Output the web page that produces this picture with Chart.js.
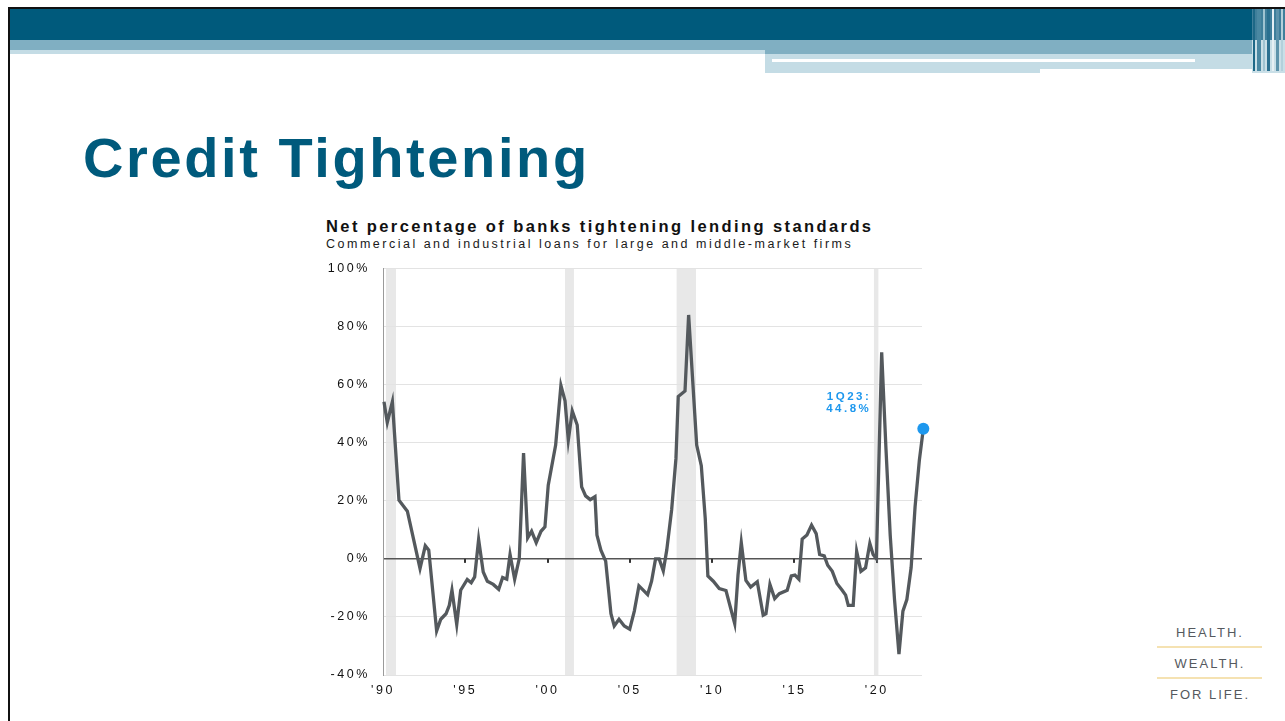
<!DOCTYPE html>
<html>
<head>
<meta charset="utf-8">
<title>Credit Tightening</title>
<script src="https://cdn.jsdelivr.net/npm/chart.js@4.4.1/dist/chart.umd.min.js"></script>
<style>
  html, body { margin: 0; padding: 0; background: #fff; }
  body { width: 1285px; height: 721px; position: relative; overflow: hidden; font-family: "Liberation Sans", Arial, sans-serif; }
  .abs { position: absolute; }
  .title { left: 83px; top: 130px; font: bold 56px/56px "Liberation Sans", Arial, sans-serif; letter-spacing: 2.6px; color: #005a7c; white-space: nowrap; }
  .ctitle { left: 326px; top: 218px; font: bold 16.5px/17px "Liberation Sans", Arial, sans-serif; letter-spacing: 2.4px; color: #111; white-space: nowrap; }
  .csub { left: 326px; top: 238px; font: 12.5px/13px "Liberation Sans", Arial, sans-serif; letter-spacing: 2.5px; color: #1a1a1a; white-space: nowrap; }
  .motto { left: 1150px; width: 120px; text-align: center; font: 13px/13px "Liberation Sans", Arial, sans-serif; letter-spacing: 2px; color: #55595e; }
  .rule { left: 1157px; width: 105px; height: 2px; background: #f5e2b2; }
  #wrap { left: 322px; top: 248px; width: 618px; height: 455px; }
</style>
</head>
<body>
<!-- slide frame and header bands -->
<div class="abs" style="left:8px;top:7px;width:1277px;height:2px;background:#111"></div>
<div class="abs" style="left:8px;top:7px;width:2px;height:714px;background:#111"></div>
<div class="abs" style="left:10px;top:9px;width:1242px;height:31px;background:#005a7c"></div>
<div class="abs" style="left:10px;top:40px;width:1242px;height:10px;background:#80afc2"></div>
<div class="abs" style="left:10px;top:50px;width:755px;height:4px;background:#c4dce5"></div>
<div class="abs" style="left:765px;top:50px;width:487px;height:4px;background:#80afc2"></div>
<div class="abs" style="left:765px;top:54px;width:487px;height:19px;background:#c4dce5"></div>
<div class="abs" style="left:772px;top:59px;width:423px;height:3px;background:#fff"></div>
<div class="abs" style="left:1040px;top:69px;width:212px;height:4px;background:#fff"></div>
<!-- stripes at the right end of the header -->
<div class="abs" style="left:1252px;top:9px;width:33px;height:64px;background:#c9dfe7"></div>
<div class="abs" style="left:1252px;top:9px;width:33px;height:31px;background:#3f7f9b"></div>
<div class="abs" style="left:1253px;top:9px;width:2px;height:62px;background:#1d6887"></div>
<div class="abs" style="left:1257px;top:9px;width:4px;height:62px;background:#4a88a2"></div>
<div class="abs" style="left:1263px;top:9px;width:2px;height:62px;background:#9fc3d1"></div>
<div class="abs" style="left:1267px;top:9px;width:3px;height:62px;background:#2a7090"></div>
<div class="abs" style="left:1272px;top:9px;width:2px;height:62px;background:#e6f0f4"></div>
<div class="abs" style="left:1276px;top:9px;width:3px;height:62px;background:#5d93ab"></div>
<div class="abs" style="left:1281px;top:9px;width:2px;height:62px;background:#b3d0db"></div>

<div class="abs title">Credit Tightening</div>
<div class="abs ctitle">Net percentage of banks tightening lending standards</div>
<div class="abs csub">Commercial and industrial loans for large and middle-market firms</div>

<div class="abs" id="wrap"><canvas id="chart"></canvas></div>

<div class="abs motto" style="top:626px">HEALTH.</div>
<div class="abs rule" style="top:646px"></div>
<div class="abs motto" style="top:657px">WEALTH.</div>
<div class="abs rule" style="top:677px"></div>
<div class="abs motto" style="top:688px">FOR LIFE.</div>

<script>
// survey dates (decimal years) and net % of banks tightening
const dates = [
  1990.06, 1990.26, 1990.57, 1990.97, 1991.48, 1992.25, 1992.57, 1992.78, 1993.26, 1993.51,
  1993.83, 1994.03, 1994.19, 1994.48, 1994.72, 1995.12, 1995.36, 1995.57, 1995.81, 1996.09,
  1996.34, 1996.70, 1997.03, 1997.27, 1997.52, 1997.72, 1998.00, 1998.28, 1998.54, 1998.79,
  1999.03, 1999.31, 1999.60, 1999.84, 2000.04, 2000.49, 2000.81, 2001.06, 2001.26, 2001.50,
  2001.80, 2002.07, 2002.31, 2002.59, 2002.88, 2003.00, 2003.24, 2003.53, 2003.85, 2004.05,
  2004.34, 2004.66, 2004.99, 2005.27, 2005.55, 2005.81, 2006.08, 2006.32, 2006.56, 2006.78,
  2007.03, 2007.24, 2007.54, 2007.80, 2007.94, 2008.35, 2008.57, 2009.06, 2009.34, 2009.58,
  2009.74, 2010.07, 2010.43, 2010.84, 2011.37, 2011.57, 2011.77, 2012.05, 2012.34, 2012.74,
  2013.10, 2013.27, 2013.51, 2013.80, 2014.08, 2014.56, 2014.81, 2015.03, 2015.27, 2015.47,
  2015.76, 2016.04, 2016.32, 2016.53, 2016.81, 2017.02, 2017.30, 2017.58, 2017.90, 2018.11,
  2018.27, 2018.57, 2018.78, 2019.04, 2019.32, 2019.58, 2019.78, 2019.98, 2020.30, 2020.56,
  2020.82, 2021.08, 2021.35, 2021.59, 2021.83, 2022.09, 2022.33, 2022.59, 2022.83
];
const values = [
  54.1, 47.0, 54.1, 20.2, 16.4, -3.3, 4.5, 3.0, -24.8, -20.8,
  -18.9, -16.0, -10.8, -22.6, -10.8, -7.1, -8.2, -6.2, 6.7, -4.5,
  -7.7, -8.8, -10.5, -6.4, -7.0, 1.5, -7.0, 0.1, 36.4, 7.2,
  9.5, 5.6, 9.5, 11.0, 25.4, 39.2, 59.7, 54.4, 40.9, 50.9,
  46.1, 24.8, 21.7, 20.4, 21.4, 8.2, 3.0, -0.8, -18.9, -23.1,
  -20.8, -23.1, -24.2, -18.0, -9.3, -10.8, -12.3, -7.7, 0.0, 0.0,
  -4.1, 3.0, 17.0, 34.6, 55.9, 57.8, 84.0, 39.2, 32.1, 13.9,
  -5.9, -7.7, -10.2, -10.9, -22.3, -5.6, 5.6, -7.4, -9.7, -7.9,
  -19.4, -18.9, -8.8, -13.7, -12.0, -10.8, -5.9, -5.6, -7.0, 6.8,
  8.2, 11.6, 8.7, 1.5, 1.0, -2.2, -4.3, -8.5, -10.8, -12.5,
  -16.0, -16.0, 2.6, -4.3, -3.1, 5.3, 1.5, 0.0, 71.1, 38.0,
  8.0, -14.0, -32.8, -18.0, -14.0, -3.0, 18.0, 34.0, 44.8
];
const lastLabel = '1Q23';
// recession periods [start, end]
const recessions = [[1990.18, 1990.79], [2001.06, 2001.60], [2007.84, 2009.02], [2019.83, 2020.10]];
const yearTicks = [1990, 1995, 2000, 2005, 2010, 2015, 2020];
const pctTicks = [-40, -20, 0, 20, 40, 60, 80, 100];

const lineColor = '#54595d';
const dotColor = '#1e98ee';
const last = values.length - 1;
const tickFont = { family: '"Liberation Sans", Arial, sans-serif', size: 12.5 };

// grey recession bars behind everything
const recessionBars = {
  id: 'recessionBars',
  beforeDraw(chart) {
    const { ctx, chartArea: a, scales: { x } } = chart;
    ctx.save();
    ctx.fillStyle = '#e8e8e8';
    recessions.forEach(([s, e]) => {
      const x0 = x.getPixelForValue(s), x1 = x.getPixelForValue(e);
      ctx.fillRect(x0, a.top, x1 - x0, a.bottom - a.top);
    });
    ctx.restore();
    // spaced-out axis lettering
    ctx.letterSpacing = '2.6px';
  }
};

// little year marks hanging under the zero line
const zeroTicks = {
  id: 'zeroTicks',
  beforeDatasetsDraw(chart) {
    const { ctx, scales: { x, y } } = chart;
    const y0 = y.getPixelForValue(0);
    ctx.save();
    ctx.fillStyle = '#333';
    yearTicks.slice(1).forEach(v => {
      const px = Math.round(x.getPixelForValue(v));
      ctx.fillRect(px - 1, y0, 2, 4);
    });
    ctx.restore();
  }
};

// callout for the latest reading
const lastCallout = {
  id: 'lastCallout',
  afterDatasetsDraw(chart) {
    const { ctx } = chart;
    const pt = chart.getDatasetMeta(0).data[last];
    ctx.save();
    ctx.letterSpacing = '2.5px';
    ctx.fillStyle = dotColor;
    ctx.font = 'bold 11.5px "Liberation Sans", Arial, sans-serif';
    ctx.textAlign = 'right';
    ctx.textBaseline = 'middle';
    ctx.fillText(lastLabel + ':', pt.x - 52, pt.y - 32);
    ctx.fillText(values[last].toFixed(1) + '%', pt.x - 52, pt.y - 20);
    ctx.restore();
  }
};

new Chart(document.getElementById('chart'), {
  type: 'line',
  data: {
    datasets: [{
      data: dates.map((d, i) => ({ x: d, y: values[i] })),
      borderColor: lineColor,
      borderWidth: 3.3,
      tension: 0,
      clip: false,
      pointRadius: c => (c.dataIndex === last ? 6 : 0),
      pointBackgroundColor: dotColor,
      pointBorderColor: dotColor,
      pointBorderWidth: 0
    }]
  },
  options: {
    responsive: true,
    maintainAspectRatio: false,
    animation: false,
    events: [],
    layout: { padding: { top: 12, right: 18, bottom: 0, left: 0 } },
    plugins: { legend: { display: false }, tooltip: { enabled: false } },
    scales: {
      x: {
        type: 'linear',
        min: 1990,
        max: 2022.75,
        afterBuildTicks: s => { s.ticks = yearTicks.map(v => ({ value: v })); },
        afterFit: s => { s.height = 28; },
        grid: { display: false },
        border: { display: false },
        ticks: {
          padding: 0,
          color: '#111',
          font: tickFont,
          callback: v => "'" + String(v).slice(2)
        }
      },
      y: {
        min: -40,
        max: 100,
        afterBuildTicks: s => { s.ticks = pctTicks.map(v => ({ value: v })); },
        afterFit: s => { s.width = 61; },
        grid: {
          drawTicks: false,
          color: c => (c.tick && c.tick.value === 0 ? '#555' : '#e3e3e3'),
          lineWidth: c => (c.tick && c.tick.value === 0 ? 1.5 : 1)
        },
        border: { display: true, color: '#9a9a9a', width: 1 },
        ticks: {
          padding: 13,
          color: '#111',
          font: tickFont,
          callback: v => v + '%'
        }
      }
    }
  },
  plugins: [recessionBars, zeroTicks, lastCallout]
});
</script>
</body>
</html>
